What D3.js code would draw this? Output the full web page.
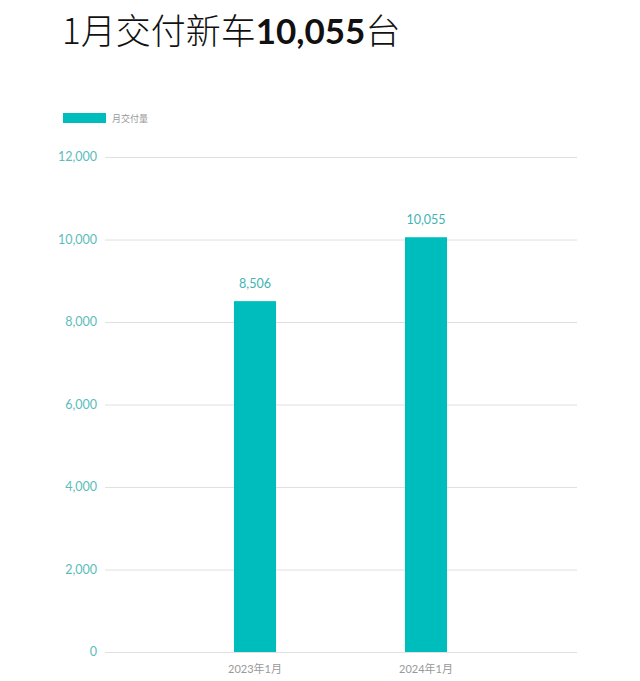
<!DOCTYPE html>
<html><head><meta charset="utf-8">
<script src="https://cdn.jsdelivr.net/npm/d3@7"></script>
<style>body{margin:0;background:#fff;} svg{display:block;}</style>
</head><body>
<svg id="c" width="640" height="681"></svg>
<script>
const categories = ["2023年1月", "2024年1月"];
const deliveries = [8506, 10055];
const yTicks = [0, 2000, 4000, 6000, 8000, 10000, 12000];
const seriesName = "月交付量";

const svg = d3.select("#c");
const teal = "#00bdbd";
const font = "'Noto Sans CJK SC','Noto Sans',sans-serif";
const numFont = "Lato,'Noto Sans CJK SC',sans-serif";

// Title
const title = svg.append("text").attr("x", 62).attr("y", 44)
  .attr("font-family", font).attr("font-size", 35).attr("fill", "#111");
title.append("tspan").attr("font-weight", 300).text("1月交付新车");
title.append("tspan").attr("font-weight", 700).attr("font-family", numFont).text("10,055");
title.append("tspan").attr("font-weight", 300).text("台");

// Legend
svg.append("rect").attr("x", 63).attr("y", 113).attr("width", 43).attr("height", 10).attr("fill", teal);
svg.append("text").attr("x", 112).attr("y", 122).attr("font-family", font)
  .attr("font-size", 9).attr("fill", "#999").text(seriesName);

const y = d3.scaleLinear().domain([0, 12000]).range([652, 157]);
const x = d3.scaleBand().domain(categories).range([169.5, 511.5])
  .paddingInner(0.754).paddingOuter(0.377);

// Grid
svg.append("g").selectAll("line").data(yTicks).join("line")
  .attr("x1", 105).attr("x2", 577)
  .attr("y1", d => y(d) + 0.5).attr("y2", d => y(d) + 0.5)
  .attr("stroke", "#e0e0e0").attr("stroke-width", 1);

// Y axis labels
svg.append("g").selectAll("text").data(yTicks).join("text")
  .attr("x", 97).attr("y", d => y(d)).attr("dy", "0.35em")
  .attr("text-anchor", "end").attr("font-family", numFont).attr("font-size", 12.5)
  .attr("fill", "#5cbcbc").text(d => d3.format(",")(d));

// Bars
svg.append("g").selectAll("rect").data(deliveries).join("rect")
  .attr("x", (d, i) => x(categories[i])).attr("width", x.bandwidth())
  .attr("y", d => y(d)).attr("height", d => y(0) - y(d)).attr("fill", teal);

// Value labels
svg.append("g").selectAll("text").data(deliveries).join("text")
  .attr("x", (d, i) => x(categories[i]) + x.bandwidth() / 2)
  .attr("y", d => y(d) - 13).attr("text-anchor", "middle")
  .attr("font-family", numFont).attr("font-size", 12.5).attr("fill", "#3fb3b3")
  .text(d => d3.format(",")(d));

// X labels
svg.append("g").selectAll("text").data(categories).join("text")
  .attr("x", d => x(d) + x.bandwidth() / 2).attr("y", 673)
  .attr("text-anchor", "middle").attr("font-family", numFont).attr("font-size", 11)
  .attr("fill", "#999").text(d => d);
</script>
</body></html>
